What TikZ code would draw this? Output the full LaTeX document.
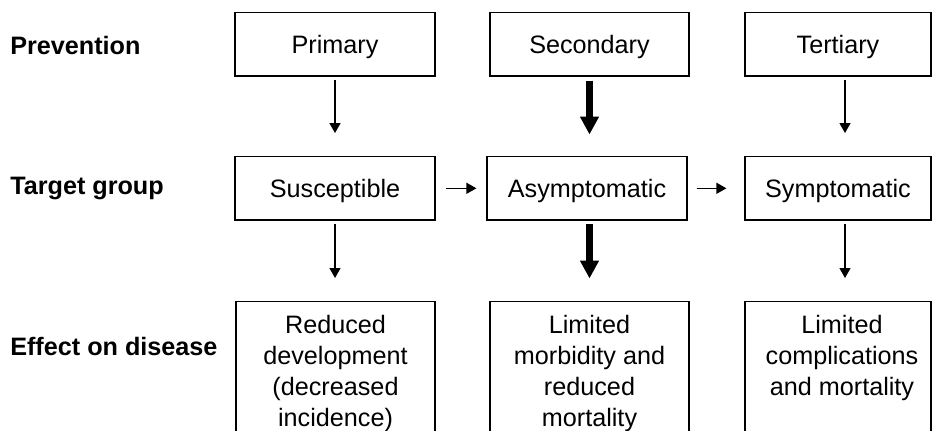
\documentclass[tikz,border=0pt]{standalone}
\usepackage{fontspec}
\setmainfont{Liberation Sans}
\usetikzlibrary{arrows.meta}
\begin{document}
% coordinates are in pixels: 1 unit = 0.75pt
\begin{tikzpicture}[x=0.75pt,y=-0.75pt,
  every node/.style={font=\fontsize{18.9pt}{23.25pt}\selectfont},
  stagebox/.style={draw=black,line width=0.9pt,minimum height=47.5pt,
    inner sep=0pt,text height=13.5pt,text depth=0pt},
  openbox/.style={draw=black,line width=0.9pt,minimum height=127.5pt,
    anchor=north,inner sep=0pt},
  boxtext/.style={align=center,anchor=north,inner sep=0pt},
  rowlabel/.style={anchor=base west,inner sep=0pt,font=\fontsize{18.9pt}{23.25pt}\selectfont\bfseries},
  thinarrow/.style={-{Triangle[length=7.5pt,width=8.25pt]},line width=0.95pt},
  thickarrow/.style={-{Triangle[length=13.5pt,width=13.5pt]},line width=4.875pt}]
\useasboundingbox (0,0) rectangle (932,431);
\clip (0,0) rectangle (932,431);

% row labels
\node[rowlabel] (lprev) at (10,55) {Prevention};
\node[rowlabel] (ltarget) at (10,195) {Target group};
\node[rowlabel] (leffect) at (10,355) {Effect on disease};

% prevention level
\node[stagebox,minimum width=150pt] (p1) at (335,44.3) {Primary};
\node[stagebox,minimum width=149.25pt] (p2) at (589.5,44.3) {Secondary};
\node[stagebox,minimum width=139.5pt] (p3) at (838,44.3) {Tertiary};

% target group
\node[stagebox,minimum width=150pt] (s1) at (335,188.3) {Susceptible};
\node[stagebox,minimum width=150pt] (s2) at (587,188.3) {Asymptomatic};
\node[stagebox,minimum width=139.5pt] (s3) at (838,188.3) {Symptomatic};

% effect on disease (boxes run past the lower edge)
\node[openbox,minimum width=149.25pt] (e1) at (335.5,301) {};
\node[openbox,minimum width=149.25pt] (e2) at (589.5,301) {};
\node[openbox,minimum width=139.5pt] (e3) at (838,301) {};
\node[boxtext] (t1) at (335.5,315) {Reduced\\development\\(decreased\\incidence)};
\node[boxtext] (t2) at (589.5,315) {Limited\\morbidity and\\reduced\\mortality};
\node[boxtext] (t3) at (842,315) {Limited\\complications\\and mortality};

% vertical connectors
\draw[thinarrow,shorten <=2.25pt,shorten >=17.25pt] (p1.south) -- (p1.south |- s1.north);
\draw[thickarrow,shorten <=3pt,shorten >=16.125pt] (p2.south) -- (p2.south |- s2.north);
\draw[thinarrow,shorten <=2.25pt,shorten >=17.25pt] ([xshift=5.25pt]p3.south) -- ([xshift=5.25pt]p3.south |- s3.north);
\draw[thinarrow,shorten <=2.25pt,shorten >=17.25pt] (s1.south) -- (s1.south |- e1.north);
\draw[thickarrow,shorten <=2.625pt,shorten >=16.875pt] (e2.north |- s2.south) -- (e2.north);
\draw[thinarrow,shorten <=2.25pt,shorten >=17.25pt] ([xshift=5.25pt]s3.south) -- ([xshift=5.25pt]s3.south |- e3.north);

% horizontal connectors
\draw[thinarrow,shorten <=7.5pt,shorten >=7.5pt] (s1.east) -- (s2.west);
\draw[thinarrow,shorten <=6.75pt,shorten >=13.5pt] (s2.east) -- (s3.west);
\end{tikzpicture}
\end{document}
